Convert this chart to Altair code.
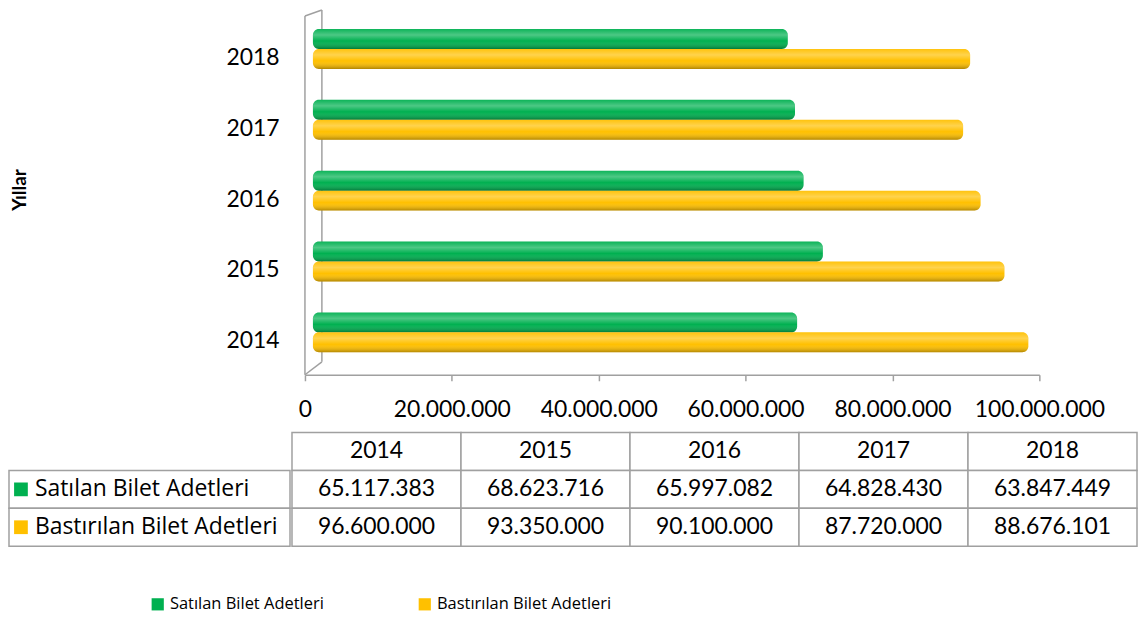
import altair as alt
import pandas as pd

years = ["2014", "2015", "2016", "2017", "2018"]
series = ["Satılan Bilet Adetleri", "Bastırılan Bilet Adetleri"]
satilan = [65117383, 68623716, 65997082, 64828430, 63847449]
bastirilan = [96600000, 93350000, 90100000, 87720000, 88676101]
x_ticks = [0, 20000000, 40000000, 60000000, 80000000, 100000000]
colors = ["#00B050", "#FFC000"]

NUM_FONT = "Lato"
TXT_FONT = "Open Sans"
GRID = "#a0a0a0"

rows = []
for i, y in enumerate(years):
    rows.append({"year": y, "row": series[0], "series": series[0], "value": satilan[i]})
    rows.append({"year": y, "row": series[1], "series": series[1], "value": bastirilan[i]})
df = pd.DataFrame(rows)

row_dom = ["hdr"] + series
hdr = pd.DataFrame({"year": years, "row": ["hdr"] * len(years)})
cells_df = pd.concat([hdr, df[["year", "row"]]], ignore_index=True)
label_df = pd.DataFrame({"row": series, "series": series, "col": ["lbl"] * 2})
origin_df = pd.DataFrame({"v": [0]})

color_scale = alt.Scale(domain=series, range=colors)
legend = alt.Legend(
    title=None, orient="none", legendX=141, legendY=585, direction="horizontal",
    symbolType="square", symbolSize=150, symbolStrokeWidth=0, labelFont=TXT_FONT,
    labelFontSize=16.5, labelColor="black", labelLimit=400, columnPadding=93,
    labelOffset=4, symbolOpacity=1,
)

# ---------- bar chart ----------
H = 363
y_enc = alt.Y(
    "year:N", sort=years[::-1],
    scale=alt.Scale(paddingInner=0.437, paddingOuter=0.271, align=0.415),
    axis=alt.Axis(
        title="Yıllar", titleFont=NUM_FONT, titleFontSize=19, titleFontWeight="bold",
        titlePadding=197, titleY=177, titleAlign="center", titleAngle=270,
        labelFont=NUM_FONT, labelFontSize=23, labelColor="black", labelOffset=9,
        labelPadding=26, ticks=False, domain=False,
    ),
)
x_scale = alt.Scale(domain=[0, 100000000], nice=False)
x_enc = alt.X(
    "value:Q", scale=x_scale,
    axis=alt.Axis(
        title=None, values=x_ticks, format=",d", labelFont=NUM_FONT, labelFontSize=23,
        labelColor="black", labelFlush=False, labelPadding=18, tickSize=6,
        tickColor=GRID, tickWidth=1.5, domainColor=GRID, domainWidth=1.5, grid=False,
    ),
)
yoff = alt.YOffset("series:N", sort=series, scale=alt.Scale(domain=series))

# 3D frame (walls) anchored at x = 0
fx = alt.X("v:Q", scale=x_scale)
frame = alt.Chart(origin_df)
front = frame.mark_rule(color=GRID, strokeWidth=1.5).encode(x=fx, y=alt.value(3), y2=alt.value(H))
back = frame.mark_rule(color=GRID, strokeWidth=1.5, xOffset=17).encode(x=fx, y=alt.value(-3), y2=alt.value(H - 13))
top_d = frame.mark_rule(color=GRID, strokeWidth=1.5, x2Offset=17).encode(
    x=fx, x2=alt.X2("v"), y=alt.value(3), y2=alt.value(-3))
bot_d = frame.mark_rule(color=GRID, strokeWidth=1.5, x2Offset=17).encode(
    x=fx, x2=alt.X2("v"), y=alt.value(H), y2=alt.value(H - 13))

base = alt.Chart(df).encode(y=y_enc, x=x_enc, x2=alt.datum(0), yOffset=yoff)
bars = base.mark_bar(xOffset=14, x2Offset=8, cornerRadiusEnd=6).encode(
    color=alt.Color("series:N", scale=color_scale, legend=legend)
)
shade = base.mark_bar(
    xOffset=14, x2Offset=8, cornerRadiusEnd=6,
    fill=alt.LinearGradient(
        gradient="linear", x1=0, y1=0, x2=0, y2=1,
        stops=[
            alt.GradientStop(offset=0, color="rgba(255,255,255,0.05)"),
            alt.GradientStop(offset=0.3, color="rgba(255,255,255,0.30)"),
            alt.GradientStop(offset=0.6, color="rgba(255,255,255,0.0)"),
            alt.GradientStop(offset=1, color="rgba(0,0,0,0.30)"),
        ],
    ),
)
bar_chart = alt.layer(back, top_d, bot_d, front, bars, shade).properties(width=737, height=H)

spacer = alt.Chart(origin_df).mark_point(size=0, opacity=0).encode(
    x=alt.value(0), y=alt.value(0)).properties(width=1, height=1)
top_row = alt.hconcat(spacer, bar_chart, spacing=0)

# ---------- data table ----------
tx = alt.X("year:N", sort=years, axis=None, scale=alt.Scale(paddingInner=0, paddingOuter=0))
ty = alt.Y("row:N", sort=row_dom, axis=None,
           scale=alt.Scale(domain=row_dom, paddingInner=0, paddingOuter=0))

cells = alt.Chart(cells_df).mark_rect(fill="white", stroke=GRID, strokeWidth=1.5).encode(x=tx, y=ty)
hdr_text = alt.Chart(hdr).mark_text(font=NUM_FONT, fontSize=23, color="black").encode(
    x=tx, y=ty, text="year:N")
val_text = alt.Chart(df).mark_text(font=NUM_FONT, fontSize=23, color="black").encode(
    x=tx, y=ty, text=alt.Text("value:Q", format=",d"))
values_panel = alt.layer(cells, hdr_text, val_text).properties(width=848, height=114)

lx = alt.X("col:N", axis=None, scale=alt.Scale(paddingInner=0, paddingOuter=0))
lx0 = alt.X("col:N", axis=None, bandPosition=0, scale=alt.Scale(paddingInner=0, paddingOuter=0))
lcells = alt.Chart(label_df).mark_rect(fill="white", stroke=GRID, strokeWidth=1.5).encode(x=lx, y=ty)
lsq = alt.Chart(label_df).mark_square(size=190, opacity=1, xOffset=12).encode(
    x=lx0, y=ty, color=alt.Color("series:N", scale=color_scale, legend=legend))
ltext = alt.Chart(label_df).mark_text(font=TXT_FONT, fontSize=23, color="black", align="left", dx=26).encode(
    x=lx0, y=ty, text="row:N")
label_panel = alt.layer(lcells, lsq, ltext).properties(width=282, height=114)

table = alt.hconcat(label_panel, values_panel, spacing=0)

chart = alt.vconcat(top_row, table, spacing=10).properties(padding=0).configure(
    locale={"number": {"decimal": ",", "thousands": ".", "grouping": [3], "currency": ["", " TL"]}}
).configure_view(strokeWidth=0)

chart.save("out.html", embed_options={"renderer": "svg", "actions": False})
